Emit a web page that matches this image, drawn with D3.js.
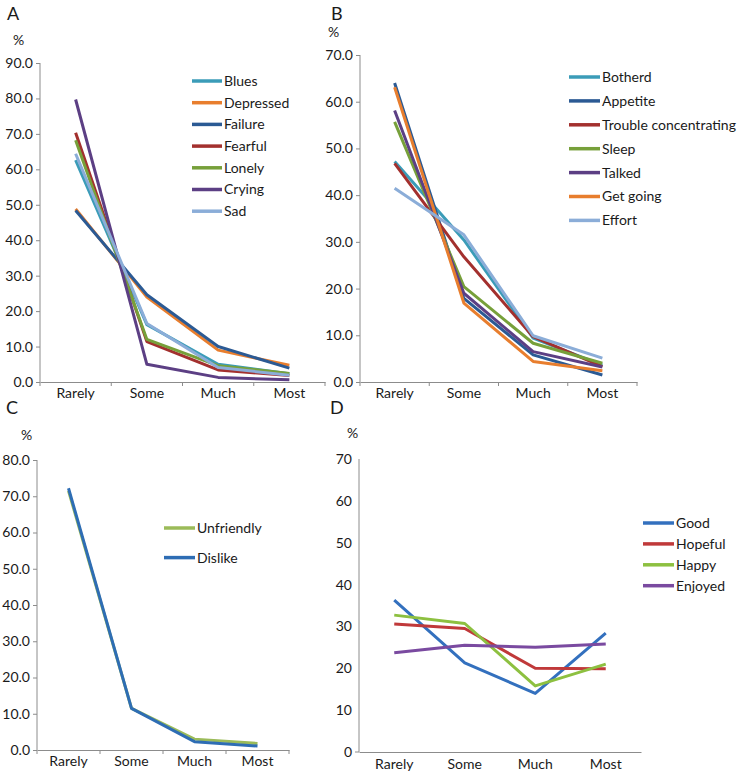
<!DOCTYPE html>
<html>
<head>
<meta charset="utf-8">
<script src="https://cdn.jsdelivr.net/npm/d3@7"></script>
<style>
  body { margin: 0; background: #fff; }
  svg { display: block; font-family: Lato, "Open Sans", sans-serif; }
  .tick text { fill: #1a1a1a; }
</style>
</head>
<body>
<svg id="chart" width="737" height="774"></svg>
<script>
// categories shared by all four panels
const categories = ["Rarely", "Some", "Much", "Most"];

// panel A
const seriesA = ["Blues", "Depressed", "Failure", "Fearful", "Lonely", "Crying", "Sad"];
const valuesA = [
  [62.6, 16.2, 5.0, 2.3],
  [48.8, 24.0, 9.0, 4.7],
  [48.4, 24.6, 10.0, 3.9],
  [70.3, 11.4, 3.4, 1.8],
  [68.2, 12.0, 4.6, 2.4],
  [79.7, 5.0, 1.3, 0.6],
  [64.4, 16.5, 4.1, 1.9]
];
const colorsA = ["#3b9cb8", "#e87e2e", "#2b5a94", "#a3302e", "#77a03a", "#5c3f84", "#8badd8"];
const ticksA = [0, 10, 20, 30, 40, 50, 60, 70, 80, 90];

// panel B
const seriesB = ["Botherd", "Appetite", "Trouble concentrating", "Sleep", "Talked", "Get going", "Effort"];
const valuesB = [
  [47.2, 30.4, 9.4, 3.6],
  [64.0, 17.9, 5.8, 1.5],
  [46.8, 26.8, 9.7, 3.3],
  [55.7, 20.4, 8.3, 4.0],
  [58.1, 19.0, 6.5, 3.2],
  [63.1, 16.9, 4.4, 2.4],
  [41.5, 31.5, 9.9, 5.1]
];
const colorsB = ["#3b9cb8", "#2b5a94", "#a3302e", "#77a03a", "#5c3f84", "#e87e2e", "#8badd8"];
const ticksB = [0, 10, 20, 30, 40, 50, 60, 70];

// panel C
const seriesC = ["Unfriendly", "Dislike"];
const valuesC = [
  [71.5, 11.5, 3.0, 1.8],
  [72.2, 11.5, 2.3, 1.1]
];
const colorsC = ["#9bbb59", "#2e6db4"];
const ticksC = [0, 10, 20, 30, 40, 50, 60, 70, 80];

// panel D
const seriesD = ["Good", "Hopeful", "Happy", "Enjoyed"];
const valuesD = [
  [36.3, 21.3, 14.0, 28.4],
  [30.6, 29.5, 20.0, 19.9],
  [32.7, 30.7, 15.8, 21.0],
  [23.7, 25.5, 25.0, 25.8]
];
const colorsD = ["#3370be", "#c0393a", "#8dc040", "#7a4aa0"];
const ticksD = [0, 10, 20, 30, 40, 50, 60, 70];

const svg = d3.select("#chart");

const panels = [
  { letter: "A", names: seriesA, values: valuesA, colors: colorsA, ticks: ticksA, fmt: ".1f",
    x0: 40, x1: 325, y0: 382, y1: 63, letterPos: [7, 20], pctPos: [13, 45],
    legend: { x: 192, y: 81, step: 21.7, len: 30 }, xTicks: true, yTicks: true, labelY: 16 },
  { letter: "B", names: seriesB, values: valuesB, colors: colorsB, ticks: ticksB, fmt: ".1f",
    x0: 360, x1: 637, y0: 382, y1: 55, letterPos: [331, 20], pctPos: [328, 37],
    legend: { x: 569, y: 77, step: 23.9, len: 31 }, xTicks: true, yTicks: true, labelY: 16 },
  { letter: "C", names: seriesC, values: valuesC, colors: colorsC, ticks: ticksC, fmt: ".1f",
    x0: 37, x1: 289, y0: 750, y1: 460, letterPos: [6, 414], pctPos: [21, 440],
    legend: { x: 164, y: 528, step: 29.6, len: 31 }, xTicks: true, yTicks: true, labelY: 16 },
  { letter: "D", names: seriesD, values: valuesD, colors: colorsD, ticks: ticksD, fmt: "d",
    x0: 359, x1: 641, y0: 752, y1: 459, letterPos: [330, 414], pctPos: [347, 438],
    legend: { x: 643, y: 523, step: 20.9, len: 31 }, xTicks: false, yTicks: false, labelY: 17 }
];

panels.forEach(p => {
  const x = d3.scaleBand().domain(categories).range([p.x0, p.x1]);
  const y = d3.scaleLinear().domain([0, d3.max(p.ticks)]).range([p.y0, p.y1]);
  const g = svg.append("g");

  // y axis
  const yAxis = g.append("g")
    .attr("transform", `translate(${p.x0},0)`)
    .call(d3.axisLeft(y).tickValues(p.ticks).tickFormat(d3.format(p.fmt))
      .tickSize(p.yTicks ? 4 : 0).tickSizeOuter(0).tickPadding(p.yTicks ? 3 : 7));
  yAxis.selectAll("text").style("font-size", "14px").style("font-family", "Lato, sans-serif");
  yAxis.selectAll("line, path").attr("stroke", "#8c8c8c");
  yAxis.select(".domain").attr("d", `M0,${p.y0}V${p.y1}` + (p.yTicks ? "" : `M-4,${p.y0}H0`));

  // x axis
  const xAxis = g.append("g")
    .attr("transform", `translate(0,${p.y0})`)
    .call(d3.axisBottom(x).tickSize(0).tickSizeOuter(0).tickPadding(p.labelY - 10));
  xAxis.selectAll("text").style("font-size", "14px").style("font-family", "Lato, sans-serif");
  xAxis.select(".domain").attr("stroke", "#8c8c8c");
  if (p.xTicks) {
    const bounds = categories.map(c => x(c)).concat([x(categories[categories.length - 1]) + x.bandwidth()]);
    xAxis.selectAll(".bound").data(bounds).join("line")
      .attr("class", "bound")
      .attr("x1", d => d).attr("x2", d => d)
      .attr("y1", 0).attr("y2", 4)
      .attr("stroke", "#8c8c8c");
  }

  // lines
  const line = d3.line()
    .x((d, i) => x(categories[i]) + x.bandwidth() / 2)
    .y(d => y(d));
  g.selectAll(".series").data(p.values).join("path")
    .attr("class", "series")
    .attr("d", line)
    .attr("fill", "none")
    .attr("stroke", (d, i) => p.colors[i])
    .attr("stroke-width", 3)
    .attr("stroke-linejoin", "round");

  // legend
  const lg = g.append("g");
  p.names.forEach((n, i) => {
    const ly = p.legend.y + i * p.legend.step;
    lg.append("line")
      .attr("x1", p.legend.x).attr("x2", p.legend.x + p.legend.len)
      .attr("y1", ly).attr("y2", ly)
      .attr("stroke", p.colors[i]).attr("stroke-width", 3.5);
    lg.append("text")
      .attr("x", p.legend.x + p.legend.len + 2).attr("y", ly)
      .attr("dy", "0.35em")
      .style("font-size", "14px").attr("fill", "#1a1a1a")
      .text(n);
  });

  // panel letter and unit
  svg.append("text").attr("x", p.letterPos[0]).attr("y", p.letterPos[1])
    .style("font-size", "18px").attr("fill", "#1a1a1a").text(p.letter);
  svg.append("text").attr("x", p.pctPos[0]).attr("y", p.pctPos[1])
    .style("font-size", "14px").attr("fill", "#1a1a1a").text("%");
});
</script>
</body>
</html>
